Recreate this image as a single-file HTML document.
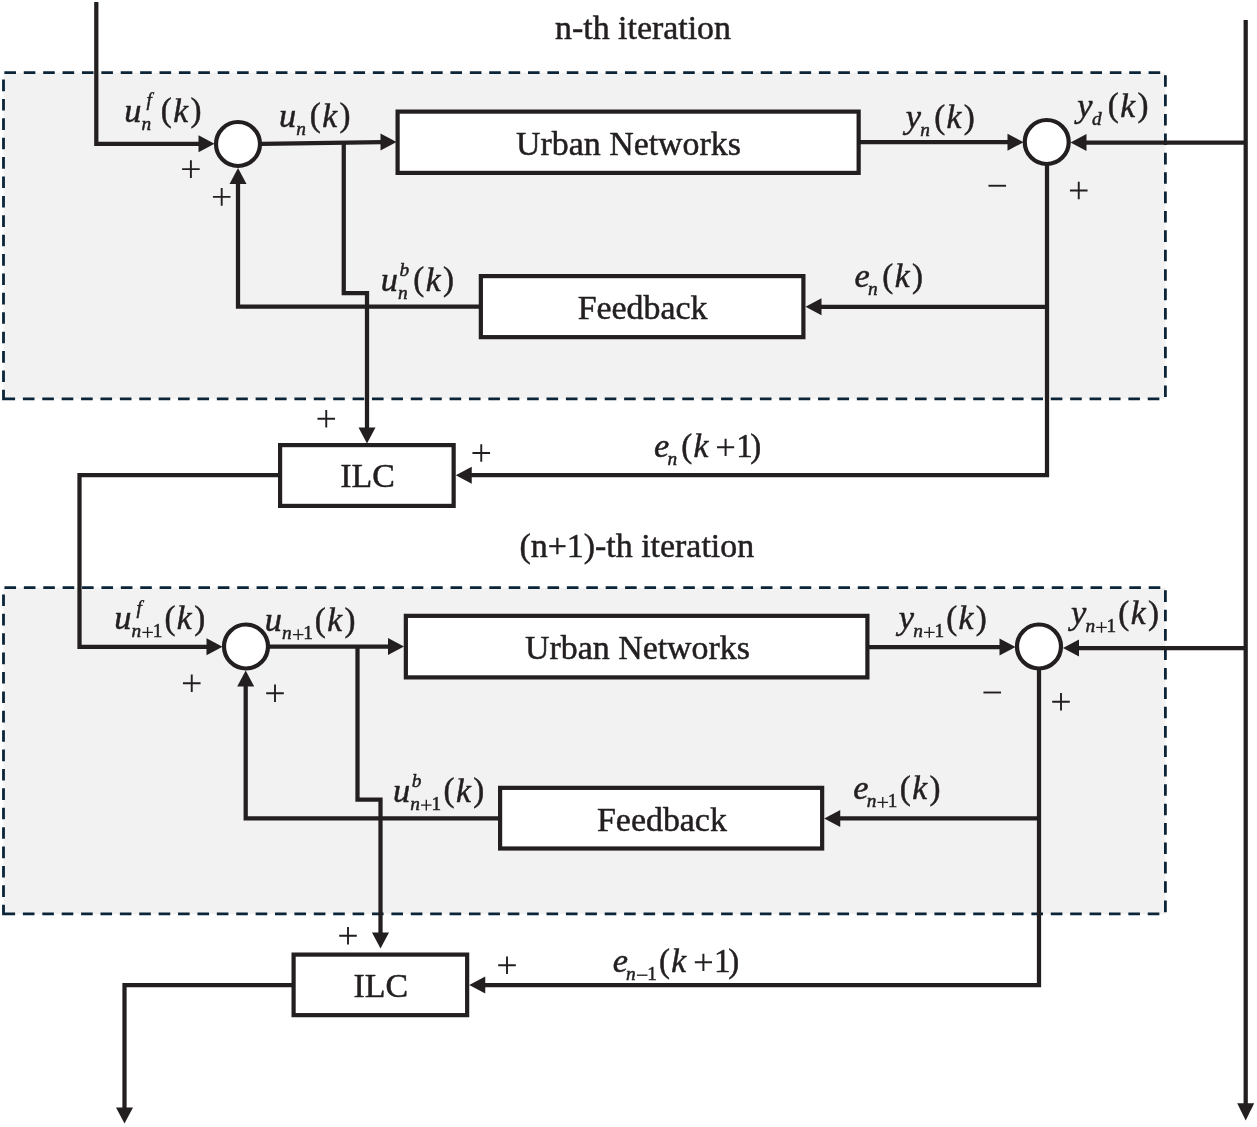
<!DOCTYPE html>
<html><head><meta charset="utf-8"><title>ILC block diagram</title>
<style>html,body{margin:0;padding:0;background:#fff}body{width:1257px;height:1127px;overflow:hidden;font-family:"Liberation Serif",serif}svg{display:block;will-change:transform;transform:translateZ(0)}</style>
</head><body>
<svg width="1257" height="1127" viewBox="0 0 1257 1127" font-family="'Liberation Serif', serif" fill="#231f20">
<rect width="1257" height="1127" fill="#fff"/>
<rect x="3.50" y="72.60" width="1161.90" height="326.25" fill="#f2f2f2" stroke="none"/>
<path d="M3.50,398.85 H1165.40 V72.60 H3.50 Z" fill="none" stroke="#0b2438" stroke-width="2.8" stroke-dasharray="11.6 7.794"/>
<rect x="3.50" y="587.60" width="1161.90" height="326.35" fill="#f2f2f2" stroke="none"/>
<path d="M3.50,913.95 H1165.40 V587.60 H3.50 Z" fill="none" stroke="#0b2438" stroke-width="2.8" stroke-dasharray="11.6 7.794"/>
<path d="M1245.7,20 V1104" fill="none" stroke="#231f20" stroke-width="4.25" stroke-linejoin="miter"/>
<polygon points="1245.70,1120.50 1237.20,1103.30 1254.20,1103.30" fill="#231f20"/>
<path d="M96.3,2 V143.75 H200" fill="none" stroke="#231f20" stroke-width="4.25" stroke-linejoin="miter"/>
<polygon points="214.50,143.75 198.50,135.25 198.50,152.25" fill="#231f20"/>
<path d="M261,143.8 L382,142.2" fill="none" stroke="#231f20" stroke-width="4.25" stroke-linejoin="miter"/>
<polygon points="396.50,142.10 380.50,133.60 380.50,150.60" fill="#231f20"/>
<path d="M343.75,142.5 V293 H367 V429" fill="none" stroke="#231f20" stroke-width="4.25" stroke-linejoin="miter"/>
<polygon points="367.00,443.50 358.50,427.50 375.50,427.50" fill="#231f20"/>
<path d="M860,142.2 H1009" fill="none" stroke="#231f20" stroke-width="4.25" stroke-linejoin="miter"/>
<polygon points="1023.50,142.20 1007.50,133.70 1007.50,150.70" fill="#231f20"/>
<path d="M1245,142.5 H1085" fill="none" stroke="#231f20" stroke-width="4.25" stroke-linejoin="miter"/>
<polygon points="1070.50,142.50 1086.50,134.00 1086.50,151.00" fill="#231f20"/>
<path d="M1047,165 V475.2 H470" fill="none" stroke="#231f20" stroke-width="4.25" stroke-linejoin="miter"/>
<polygon points="455.75,475.20 471.75,466.70 471.75,483.70" fill="#231f20"/>
<path d="M1047,306.75 H819" fill="none" stroke="#231f20" stroke-width="4.25" stroke-linejoin="miter"/>
<polygon points="805.50,306.75 821.50,298.25 821.50,315.25" fill="#231f20"/>
<path d="M480,306.5 H238 V182" fill="none" stroke="#231f20" stroke-width="4.25" stroke-linejoin="miter"/>
<polygon points="238.00,168.00 229.50,184.00 246.50,184.00" fill="#231f20"/>
<path d="M279,475 H79.5 V646.75 H208" fill="none" stroke="#231f20" stroke-width="4.25" stroke-linejoin="miter"/>
<polygon points="222.50,646.75 206.50,638.25 206.50,655.25" fill="#231f20"/>
<rect x="397.60" y="111.60" width="461.05" height="61.30" fill="#fff" stroke="#231f20" stroke-width="4.2"/>
<rect x="480.85" y="276.10" width="322.55" height="61.05" fill="#fff" stroke="#231f20" stroke-width="4.2"/>
<rect x="280.10" y="445.10" width="173.55" height="60.80" fill="#fff" stroke="#231f20" stroke-width="4.2"/>
<circle cx="238.00" cy="144.00" r="22.00" fill="#fff" stroke="#231f20" stroke-width="4.2"/>
<circle cx="1046.75" cy="142.00" r="22.00" fill="#fff" stroke="#231f20" stroke-width="4.2"/>
<path d="M269,646.5 H390" fill="none" stroke="#231f20" stroke-width="4.25" stroke-linejoin="miter"/>
<polygon points="404.00,646.50 388.00,638.00 388.00,655.00" fill="#231f20"/>
<path d="M357.5,646 V799.5 H380.5 V934" fill="none" stroke="#231f20" stroke-width="4.25" stroke-linejoin="miter"/>
<polygon points="380.50,948.50 372.00,932.50 389.00,932.50" fill="#231f20"/>
<path d="M869,647 H1001" fill="none" stroke="#231f20" stroke-width="4.25" stroke-linejoin="miter"/>
<polygon points="1015.50,647.00 999.50,638.50 999.50,655.50" fill="#231f20"/>
<path d="M1245,648 H1077" fill="none" stroke="#231f20" stroke-width="4.25" stroke-linejoin="miter"/>
<polygon points="1063.00,648.00 1079.00,639.50 1079.00,656.50" fill="#231f20"/>
<path d="M1039,669 V985 H483" fill="none" stroke="#231f20" stroke-width="4.25" stroke-linejoin="miter"/>
<polygon points="469.25,985.00 485.25,976.50 485.25,993.50" fill="#231f20"/>
<path d="M1039,818.4 H838" fill="none" stroke="#231f20" stroke-width="4.25" stroke-linejoin="miter"/>
<polygon points="824.25,818.40 840.25,809.90 840.25,826.90" fill="#231f20"/>
<path d="M499,818.4 H245.7 V684" fill="none" stroke="#231f20" stroke-width="4.25" stroke-linejoin="miter"/>
<polygon points="245.70,670.50 237.20,686.50 254.20,686.50" fill="#231f20"/>
<path d="M292,985 H124.5 V1108" fill="none" stroke="#231f20" stroke-width="4.25" stroke-linejoin="miter"/>
<polygon points="124.50,1123.50 116.00,1107.50 133.00,1107.50" fill="#231f20"/>
<rect x="405.85" y="615.85" width="461.55" height="61.55" fill="#fff" stroke="#231f20" stroke-width="4.2"/>
<rect x="500.10" y="787.85" width="322.05" height="60.65" fill="#fff" stroke="#231f20" stroke-width="4.2"/>
<rect x="293.60" y="954.60" width="173.55" height="60.55" fill="#fff" stroke="#231f20" stroke-width="4.2"/>
<circle cx="246.00" cy="646.50" r="22.00" fill="#fff" stroke="#231f20" stroke-width="4.2"/>
<circle cx="1039.00" cy="646.50" r="22.00" fill="#fff" stroke="#231f20" stroke-width="4.2"/>
<path d="M182.10,169.10 H199.70 M190.90,160.30 V177.90" stroke="#231f20" stroke-width="1.9" fill="none"/>
<path d="M212.90,196.90 H230.50 M221.70,188.10 V205.70" stroke="#231f20" stroke-width="1.9" fill="none"/>
<path d="M988.45,185.75 H1006.05" stroke="#231f20" stroke-width="1.9" fill="none"/>
<path d="M1069.95,190.50 H1087.55 M1078.75,181.70 V199.30" stroke="#231f20" stroke-width="1.9" fill="none"/>
<path d="M317.45,418.75 H335.05 M326.25,409.95 V427.55" stroke="#231f20" stroke-width="1.9" fill="none"/>
<path d="M472.45,453.00 H490.05 M481.25,444.20 V461.80" stroke="#231f20" stroke-width="1.9" fill="none"/>
<path d="M182.95,683.25 H200.55 M191.75,674.45 V692.05" stroke="#231f20" stroke-width="1.9" fill="none"/>
<path d="M266.20,693.25 H283.80 M275.00,684.45 V702.05" stroke="#231f20" stroke-width="1.9" fill="none"/>
<path d="M983.45,692.50 H1001.05" stroke="#231f20" stroke-width="1.9" fill="none"/>
<path d="M1052.20,701.75 H1069.80 M1061.00,692.95 V710.55" stroke="#231f20" stroke-width="1.9" fill="none"/>
<path d="M339.20,935.75 H356.80 M348.00,926.95 V944.55" stroke="#231f20" stroke-width="1.9" fill="none"/>
<path d="M498.20,965.30 H515.80 M507.00,956.50 V974.10" stroke="#231f20" stroke-width="1.9" fill="none"/>
<g stroke="#231f20" stroke-width="0.5" stroke-linejoin="round">
<text x="555.00" y="39.30" font-size="33.9">n-th iteration</text>
<text x="519.50" y="556.80" font-size="33.9">(n+1)-th iteration</text>
<text x="516.00" y="154.80" font-size="33.9">Urban Networks</text>
<text x="525.00" y="659.10" font-size="33.9">Urban Networks</text>
<text x="577.70" y="319.10" font-size="33.9">Feedback</text>
<text x="597.00" y="831.10" font-size="33.9">Feedback</text>
<text x="340.30" y="487.30" font-size="33.9">ILC</text>
<text x="353.50" y="997.30" font-size="33.9">ILC</text>
<text x="124.18" y="121.70" font-size="34.4" font-style="italic">u</text>
<text x="141.51" y="129.80" font-size="19.3" font-style="italic">n</text>
<text x="146.50" y="106.30" font-size="19.3" font-style="italic">f</text>
<text x="160.85" y="121.30" font-size="33.0">(</text>
<text x="173.23" y="121.70" font-size="33.5" font-style="italic">k</text>
<text x="190.54" y="121.30" font-size="33.0">)</text>
<text x="279.03" y="126.55" font-size="34.4" font-style="italic">u</text>
<text x="296.36" y="134.65" font-size="19.3" font-style="italic">n</text>
<text x="309.85" y="126.15" font-size="33.0">(</text>
<text x="322.23" y="126.55" font-size="33.5" font-style="italic">k</text>
<text x="339.54" y="126.15" font-size="33.0">)</text>
<text x="380.78" y="290.60" font-size="34.4" font-style="italic">u</text>
<text x="398.11" y="298.70" font-size="19.3" font-style="italic">n</text>
<text x="399.59" y="275.60" font-size="19.3" font-style="italic">b</text>
<text x="413.25" y="290.20" font-size="33.0">(</text>
<text x="425.63" y="290.60" font-size="33.5" font-style="italic">k</text>
<text x="442.94" y="290.20" font-size="33.0">)</text>
<text x="905.86" y="127.90" font-size="34.4" font-style="italic">y</text>
<text x="920.31" y="136.00" font-size="19.3" font-style="italic">n</text>
<text x="934.15" y="127.50" font-size="33.0">(</text>
<text x="946.53" y="127.90" font-size="33.5" font-style="italic">k</text>
<text x="963.84" y="127.50" font-size="33.0">)</text>
<text x="1077.36" y="116.80" font-size="34.4" font-style="italic">y</text>
<text x="1091.92" y="124.90" font-size="19.3" font-style="italic">d</text>
<text x="1107.85" y="116.40" font-size="33.0">(</text>
<text x="1120.23" y="116.80" font-size="33.5" font-style="italic">k</text>
<text x="1137.54" y="116.40" font-size="33.0">)</text>
<text x="854.53" y="287.20" font-size="34.4" font-style="italic">e</text>
<text x="868.01" y="295.30" font-size="19.3" font-style="italic">n</text>
<text x="882.35" y="286.80" font-size="33.0">(</text>
<text x="894.73" y="287.20" font-size="33.5" font-style="italic">k</text>
<text x="912.04" y="286.80" font-size="33.0">)</text>
<text x="653.93" y="456.90" font-size="34.4" font-style="italic">e</text>
<text x="667.41" y="465.00" font-size="19.3" font-style="italic">n</text>
<text x="681.15" y="456.50" font-size="33.0">(</text>
<text x="693.53" y="456.90" font-size="33.5" font-style="italic">k</text>
<path d="M717.00,447.30 H734.20 M725.60,438.70 V455.90" stroke="#231f20" stroke-width="2.0" fill="none"/>
<text x="736.30" y="456.90" font-size="33">1</text>
<text x="750.34" y="456.50" font-size="33.0">)</text>
<text x="114.18" y="629.10" font-size="34.4" font-style="italic">u</text>
<text x="131.51" y="637.20" font-size="19.3" font-style="italic">n</text>
<path d="M142.30,632.40 H152.90 M147.60,627.10 V637.70" stroke="#231f20" stroke-width="1.35" fill="none"/>
<text x="152.70" y="637.20" font-size="19.3">1</text>
<text x="136.50" y="613.70" font-size="19.3" font-style="italic">f</text>
<text x="164.45" y="628.70" font-size="33.0">(</text>
<text x="176.83" y="629.10" font-size="33.5" font-style="italic">k</text>
<text x="194.14" y="628.70" font-size="33.0">)</text>
<text x="264.78" y="631.30" font-size="34.4" font-style="italic">u</text>
<text x="282.11" y="639.40" font-size="19.3" font-style="italic">n</text>
<path d="M292.90,634.60 H303.50 M298.20,629.30 V639.90" stroke="#231f20" stroke-width="1.35" fill="none"/>
<text x="303.30" y="639.40" font-size="19.3">1</text>
<text x="314.75" y="630.90" font-size="33.0">(</text>
<text x="327.13" y="631.30" font-size="33.5" font-style="italic">k</text>
<text x="344.44" y="630.90" font-size="33.0">)</text>
<text x="392.88" y="801.80" font-size="34.4" font-style="italic">u</text>
<text x="410.21" y="809.90" font-size="19.3" font-style="italic">n</text>
<path d="M421.00,805.10 H431.60 M426.30,799.80 V810.40" stroke="#231f20" stroke-width="1.35" fill="none"/>
<text x="431.40" y="809.90" font-size="19.3">1</text>
<text x="411.69" y="786.80" font-size="19.3" font-style="italic">b</text>
<text x="443.55" y="801.40" font-size="33.0">(</text>
<text x="455.93" y="801.80" font-size="33.5" font-style="italic">k</text>
<text x="473.24" y="801.40" font-size="33.0">)</text>
<text x="898.76" y="629.10" font-size="34.4" font-style="italic">y</text>
<text x="913.21" y="637.20" font-size="19.3" font-style="italic">n</text>
<path d="M924.00,632.40 H934.60 M929.30,627.10 V637.70" stroke="#231f20" stroke-width="1.35" fill="none"/>
<text x="934.40" y="637.20" font-size="19.3">1</text>
<text x="946.15" y="628.70" font-size="33.0">(</text>
<text x="958.53" y="629.10" font-size="33.5" font-style="italic">k</text>
<text x="975.84" y="628.70" font-size="33.0">)</text>
<text x="1070.96" y="624.10" font-size="34.4" font-style="italic">y</text>
<text x="1085.41" y="632.20" font-size="19.3" font-style="italic">n</text>
<path d="M1096.20,627.40 H1106.80 M1101.50,622.10 V632.70" stroke="#231f20" stroke-width="1.35" fill="none"/>
<text x="1106.60" y="632.20" font-size="19.3">1</text>
<text x="1118.35" y="623.70" font-size="33.0">(</text>
<text x="1130.73" y="624.10" font-size="33.5" font-style="italic">k</text>
<text x="1148.04" y="623.70" font-size="33.0">)</text>
<text x="853.18" y="799.05" font-size="34.4" font-style="italic">e</text>
<text x="866.66" y="807.15" font-size="19.3" font-style="italic">n</text>
<path d="M877.45,802.35 H888.05 M882.75,797.05 V807.65" stroke="#231f20" stroke-width="1.35" fill="none"/>
<text x="887.85" y="807.15" font-size="19.3">1</text>
<text x="899.85" y="798.65" font-size="33.0">(</text>
<text x="912.23" y="799.05" font-size="33.5" font-style="italic">k</text>
<text x="929.54" y="798.65" font-size="33.0">)</text>
<text x="612.63" y="971.90" font-size="34.4" font-style="italic">e</text>
<text x="626.11" y="980.00" font-size="19.3" font-style="italic">n</text>
<path d="M636.90,975.20 H647.50" stroke="#231f20" stroke-width="1.35" fill="none"/>
<text x="647.30" y="980.00" font-size="19.3">1</text>
<text x="658.95" y="971.50" font-size="33.0">(</text>
<text x="671.33" y="971.90" font-size="33.5" font-style="italic">k</text>
<path d="M694.80,962.30 H712.00 M703.40,953.70 V970.90" stroke="#231f20" stroke-width="2.0" fill="none"/>
<text x="714.10" y="971.90" font-size="33">1</text>
<text x="728.14" y="971.50" font-size="33.0">)</text>
</g>
</svg>
</body></html>
